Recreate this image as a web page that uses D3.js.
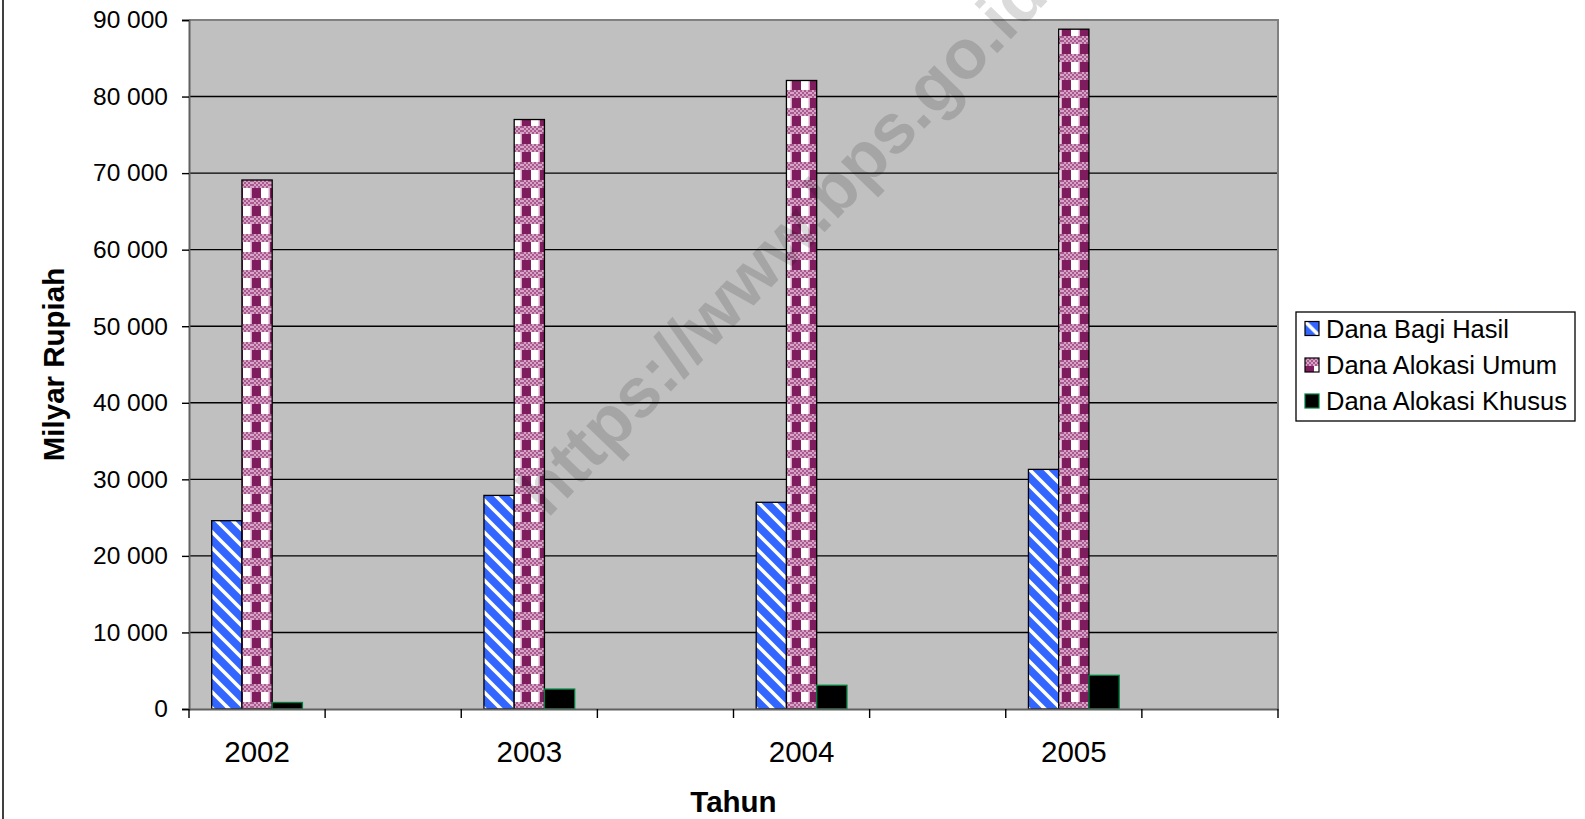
<!DOCTYPE html>
<html>
<head>
<meta charset="utf-8">
<script src="https://cdn.jsdelivr.net/npm/d3@7"></script>
<style>
  html, body { margin: 0; padding: 0; background: #fff; }
  svg { display: block; font-family: Arial, "Liberation Sans", sans-serif; }
</style>
</head>
<body>
<svg id="chart" width="1585" height="819"></svg>
<script>
// ---- data ----
const categories = ["2002", "", "2003", "", "2004", "", "2005", ""];
const seriesNames = ["Dana Bagi Hasil", "Dana Alokasi Umum", "Dana Alokasi Khusus"];
const danaBagiHasil     = [24600, null, 27900, null, 27000, null, 31300, null];
const danaAlokasiUmum   = [69100, null, 77000, null, 82100, null, 88800, null];
const danaAlokasiKhusus = [850,   null, 2600,  null, 3100,  null, 4400,  null];
const yTickValues = [0, 10000, 20000, 30000, 40000, 50000, 60000, 70000, 80000, 90000];
const yTitle = "Milyar Rupiah";
const xTitle = "Tahun";
const watermark = "https://www.bps.go.id";

const seriesValues = [danaBagiHasil, danaAlokasiUmum, danaAlokasiKhusus];

// ---- layout ----
const svg = d3.select("#chart");
const plot = { left: 189, right: 1278, top: 20, bottom: 709 };

const x = d3.scaleBand().domain(d3.range(categories.length))
  .range([plot.left, plot.right]).paddingInner(0).paddingOuter(0);
const xs = d3.scaleBand().domain(d3.range(seriesNames.length))
  .range([0, x.bandwidth()]).paddingInner(0).paddingOuter(0.75);
const y = d3.scaleLinear().domain([0, 90000]).range([plot.bottom, plot.top]);

// ---- patterns ----
const defs = svg.append("defs");
const pb = defs.append("pattern").attr("id", "pBlue")
  .attr("patternUnits", "userSpaceOnUse").attr("width", 16).attr("height", 16);
pb.append("rect").attr("width", 16).attr("height", 16).attr("fill", "#3366FF");
pb.append("path").attr("d", "M-2,-2 L18,18 M-2,14 L2,18 M14,-2 L18,2")
  .attr("stroke", "#fff").attr("stroke-width", 3.6).attr("fill", "none");

const purple = "#7E1C5E";
const pink = "#D7A3C6";
const pp = defs.append("pattern").attr("id", "pPurple")
  .attr("patternUnits", "userSpaceOnUse").attr("width", 18).attr("height", 18);
pp.append("rect").attr("width", 18).attr("height", 18).attr("fill", "#fff");
// checker band (pink / purple)
pp.append("rect").attr("x", 0).attr("y", 0).attr("width", 18).attr("height", 8).attr("fill", pink);
for (let i = 0; i < 9; i++) {
  for (let j = 0; j < 4; j++) {
    if ((i + j) % 2 === 0) {
      pp.append("rect").attr("x", i * 2).attr("y", j * 2).attr("width", 2).attr("height", 2).attr("fill", "#A85A8E");
    }
  }
}
pp.append("rect").attr("x", 0).attr("y", 8).attr("width", 9).attr("height", 10).attr("fill", purple);
pp.append("rect").attr("x", 16.5).attr("y", 8).attr("width", 1.5).attr("height", 10).attr("fill", pink);

const fills = ["url(#pBlue)", "url(#pPurple)", "#000"];
const strokes = ["#000", "#000", "#008040"];

// ---- chart border (left edge) ----
svg.append("line").attr("x1", 3).attr("x2", 3).attr("y1", 0).attr("y2", 819)
  .attr("stroke", "#404040").attr("stroke-width", 2);

// ---- plot area ----
svg.append("rect")
  .attr("x", plot.left).attr("y", plot.top)
  .attr("width", plot.right - plot.left).attr("height", plot.bottom - plot.top)
  .attr("fill", "#C0C0C0");

// gridlines
svg.append("g").selectAll("line")
  .data(yTickValues.filter(v => v > 0))
  .join("line")
  .attr("x1", plot.left).attr("x2", plot.right)
  .attr("y1", d => y(d)).attr("y2", d => y(d))
  .attr("stroke", "#000").attr("stroke-width", 1.4);

// plot border (top/right)
svg.append("path")
  .attr("d", `M${plot.left},${plot.top} H${plot.right} V${plot.bottom}`)
  .attr("fill", "none").attr("stroke", "#808080").attr("stroke-width", 2);

// ---- bars ----
const barData = [];
seriesValues.forEach((vals, s) => {
  vals.forEach((v, i) => { if (v != null) barData.push({ s, i, v }); });
});
svg.append("g").selectAll("rect")
  .data(barData)
  .join("rect")
  .attr("x", d => x(d.i) + xs(d.s))
  .attr("y", d => y(d.v))
  .attr("width", xs.bandwidth())
  .attr("height", d => y(0) - y(d.v))
  .attr("fill", d => fills[d.s])
  .attr("stroke", d => strokes[d.s])
  .attr("stroke-width", 1.3);

// ---- y axis ----
const fmt = v => d3.format(",")(v).replace(/,/g, " ");
const yAxis = svg.append("g").attr("transform", `translate(${plot.left},0)`)
  .call(d3.axisLeft(y).tickValues(yTickValues).tickSize(7).tickPadding(14).tickFormat(fmt));
yAxis.select(".domain").attr("stroke", "#606060").attr("stroke-width", 2);
yAxis.selectAll(".tick line").attr("stroke", "#000").attr("stroke-width", 1.4);
yAxis.selectAll(".tick text").attr("font-size", "24.5px").attr("fill", "#000")
  .attr("font-family", "Arial, 'Liberation Sans', sans-serif");

// ---- x axis ----
const xAxis = svg.append("g").attr("transform", `translate(0,${plot.bottom})`)
  .call(d3.axisBottom(x).tickSize(0).tickPadding(32).tickFormat(i => categories[i]));
xAxis.select(".domain").attr("stroke", "#606060").attr("stroke-width", 2);
xAxis.selectAll(".tick text").attr("font-size", "29.5px").attr("fill", "#000")
  .attr("font-family", "Arial, 'Liberation Sans', sans-serif");
// tick marks at category boundaries
const boundaries = categories.map((c, i) => x(i)).concat([x(categories.length - 1) + x.bandwidth()]);
svg.append("g").selectAll("line").data(boundaries).join("line")
  .attr("x1", d => d).attr("x2", d => d)
  .attr("y1", plot.bottom).attr("y2", plot.bottom + 9)
  .attr("stroke", "#000").attr("stroke-width", 1.4);

// ---- axis titles ----
svg.append("text")
  .attr("transform", `translate(64,${(plot.top + plot.bottom) / 2}) rotate(-90)`)
  .attr("text-anchor", "middle").attr("font-weight", "bold").attr("font-size", "29.5px")
  .text(yTitle);
svg.append("text")
  .attr("x", (plot.left + plot.right) / 2).attr("y", 812)
  .attr("text-anchor", "middle").attr("font-weight", "bold").attr("font-size", "29.5px")
  .text(xTitle);

// ---- legend ----
const lg = svg.append("g");
lg.append("rect").attr("x", 1296).attr("y", 312).attr("width", 279).attr("height", 109)
  .attr("fill", "#fff").attr("stroke", "#000").attr("stroke-width", 1.3);
const rowY = [328.5, 365, 401];
seriesNames.forEach((name, s) => {
  const g = lg.append("g").attr("transform", `translate(1305,${rowY[s] - 7})`);
  g.append("rect").attr("width", 14).attr("height", 14)
    .attr("fill", fills[s]).attr("stroke", strokes[s]).attr("stroke-width", 1.2);
  lg.append("text").attr("x", 1326).attr("y", rowY[s]).attr("dy", "0.36em")
    .attr("font-size", "25.5px").attr("fill", "#000").text(name);
});

// ---- watermark ----
svg.append("text")
  .attr("transform", "translate(786,246) rotate(-46)")
  .attr("text-anchor", "middle").attr("dy", "0.26em")
  .attr("font-weight", "bold").attr("font-size", "70px")
  .attr("fill", "#000").attr("fill-opacity", 0.14)
  .text(watermark);
</script>
</body>
</html>
